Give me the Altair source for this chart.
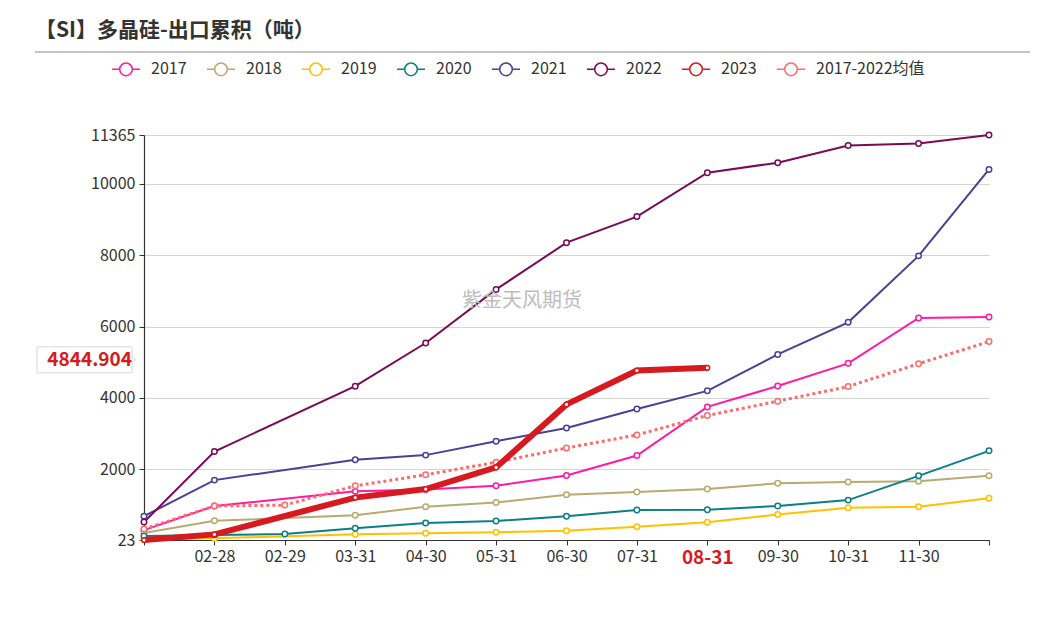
import altair as alt
import pandas as pd

categories = ["01-31", "02-28", "02-29", "03-31", "04-30", "05-31", "06-30",
              "07-31", "08-31", "09-30", "10-31", "11-30", "12-31"]
series_names = ["2017", "2018", "2019", "2020", "2021", "2022", "2023", "2017-2022均值"]
colors = ["#ff1aa6", "#b9aa70", "#ffc000", "#0b7f86", "#4b3f98", "#7a0a56", "#d71920", "#ff6b6b"]

s2017 = [300, 975, None, 1385, 1440, 1545, 1830, 2390, 3750, 4335, 4970, 6240, 6265]
s2018 = [220, 560, None, 715, 955, 1075, 1290, 1365, 1450, 1610, 1650, 1670, 1820]
s2019 = [40, 70, None, 185, 210, 240, 285, 395, 520, 740, 925, 955, 1190]
s2020 = [135, 165, 190, 350, 500, 555, 685, 860, 870, 975, 1140, 1820, 2520]
s2021 = [690, 1700, None, 2270, 2400, 2790, 3160, 3690, 4200, 5220, 6120, 7980, 10400]
s2022 = [525, 2500, None, 4330, 5540, 7040, 8350, 9080, 10310, 10590, 11070, 11130, 11365]
s2023 = [23, 180, None, 1210, 1450, 2055, 3820, 4770, 4844.904, None, None, None, None]
savg = [330, 975, 1000, 1540, 1850, 2200, 2600, 2965, 3510, 3910, 4320, 4960, 5580]

y_ticks = [23, 2000, 4000, 6000, 8000, 10000, 11365]
latest_value = 4844.904
highlight_cat = "08-31"
title_text = "【SI】多晶硅-出口累积（吨）"
watermark = "紫金天风期货"

rows = []
for name, vals in zip(series_names, [s2017, s2018, s2019, s2020, s2021, s2022, s2023, savg]):
    for c, v in zip(categories, vals):
        if v is not None:
            rows.append({"date": c, "series": name, "value": v})
df = pd.DataFrame(rows)

FONT = "Noto Sans CJK SC"
TXT = "#333333"

legend_path = ("M-1,0L-0.45,0M0.45,0L1,0M-0.45,0A0.45,0.45,0,1,1,0.45,0"
               "A0.45,0.45,0,1,1,-0.45,0Z")

x_enc = alt.X(
    "date:O", sort=categories,
    scale=alt.Scale(type="point", padding=0, domain=categories),
    axis=alt.Axis(
        title=None, labelAngle=0, grid=False,
        labelExpr="(datum.index == 0 || datum.index == 1) ? '' : datum.label",
        labelFontSize={"condition": {"test": f"datum.value == '{highlight_cat}'", "value": 19}, "value": 16},
        labelFontWeight={"condition": {"test": f"datum.value == '{highlight_cat}'", "value": "bold"}, "value": "normal"},
        labelColor={"condition": {"test": f"datum.value == '{highlight_cat}'", "value": "#d71920"}, "value": TXT},
        labelFont=FONT, labelPadding=3, tickSize=5, tickColor=TXT,
        domainColor=TXT, domainWidth=1.2, labelBaseline="top",
    ),
)
y_enc = alt.Y(
    "value:Q",
    scale=alt.Scale(domain=[23, 11365], nice=False, zero=False),
    axis=alt.Axis(
        title=None, values=y_ticks, format="d", labelFontSize=16, labelColor=TXT, labelFont=FONT,
        tickSize=5, tickColor=TXT, domainColor=TXT, domainWidth=1.2, labelPadding=4,
        gridColor="#d4d4d4", gridWidth=1,
    ),
)
color_enc = alt.Color(
    "series:N",
    scale=alt.Scale(domain=series_names, range=colors),
    legend=alt.Legend(
        title=None, orient="none", legendX=-33, legendY=-81, direction="horizontal",
        columns=8, symbolType=legend_path, symbolSize=784, symbolStrokeWidth=1.5,
        symbolFillColor="white", labelFontSize=16, labelColor=TXT, labelFont=FONT,
        labelOffset=10, columnPadding=17,
    ),
)

base = alt.Chart(df).encode(x=x_enc, y=y_enc, color=color_enc)

others = ["2017", "2018", "2019", "2020", "2021", "2022"]
lines_others = base.transform_filter(
    alt.FieldOneOfPredicate(field="series", oneOf=others)
).mark_line(strokeWidth=2)
line_avg = base.transform_filter(
    alt.datum.series == "2017-2022均值"
).mark_line(strokeWidth=3, strokeDash=[3, 3])
pts_others = base.transform_filter(
    alt.datum.series != "2023"
).mark_point(filled=False, fill="white", fillOpacity=1, size=30, strokeWidth=1.5, opacity=1)
line_2023 = base.transform_filter(alt.datum.series == "2023").mark_line(strokeWidth=6)
pts_2023 = base.transform_filter(alt.datum.series == "2023").mark_point(
    filled=False, fill="white", fillOpacity=1, size=22, strokeWidth=1.5, opacity=1)

one = pd.DataFrame({"a": [0]})
title = alt.Chart(one).mark_text(
    text=title_text, align="left", baseline="middle", fontSize=21, fontWeight="bold",
    font=FONT, color=TXT,
).encode(x=alt.value(-109), y=alt.value(-104))
title_rule = alt.Chart(one).mark_rule(color="#b0b0b0", strokeWidth=1.5).encode(
    x=alt.value(-109), x2=alt.value(886), y=alt.value(-83))
wm = alt.Chart(one).mark_text(
    text=watermark, fontSize=20, font=FONT, color="#bdbdbd", align="center", baseline="middle",
).encode(x=alt.value(378), y=alt.value(166))

box = alt.Chart(one).mark_rect(
    fill="white", stroke="#d8d8d8", strokeWidth=1, yOffset=-21, y2Offset=5,
).encode(x=alt.value(-107), x2=alt.value(-12), y=alt.datum(latest_value), y2=alt.datum(latest_value))
arrow = alt.Chart(one).mark_point(
    shape="triangle-right", size=60, fill="white", stroke="#d8d8d8", strokeWidth=1,
    filled=True, opacity=1, yOffset=-8,
).encode(x=alt.value(-12), y=alt.datum(latest_value))
box_text = alt.Chart(one).mark_text(
    text=f"{latest_value}", fontSize=19, fontWeight="bold", color="#d71920", font=FONT,
    align="right", baseline="middle", dy=-8,
).encode(x=alt.value(-12), y=alt.datum(latest_value))

chart = alt.layer(
    lines_others, line_avg, pts_others, line_2023, pts_2023,
    title, title_rule, wm, box, arrow, box_text,
).properties(
    width=845, height=405,
    autosize=alt.AutoSizeParams(type="none"),
    padding={"left": 136, "top": 127, "right": 46, "bottom": 60},
).configure_view(stroke=None)

chart.save("out.html", embed_options={"renderer": "svg", "actions": False})
